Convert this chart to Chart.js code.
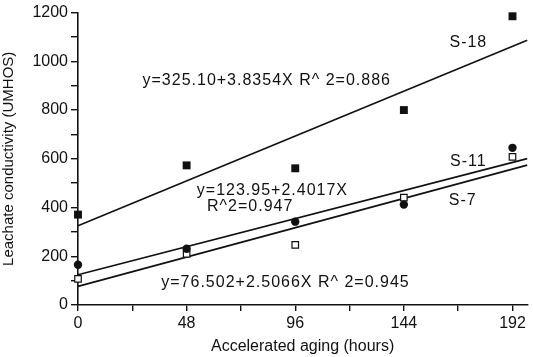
<!DOCTYPE html>
<html>
<head>
<meta charset="utf-8">
<script src="https://cdn.jsdelivr.net/npm/chart.js@4.4.1/dist/chart.umd.min.js"></script>
<style>
  html, body { margin: 0; padding: 0; background: #fff; }
  #wrap { width: 533px; height: 357px; position: relative; }
</style>
</head>
<body>
<div id="wrap"><canvas id="chart"></canvas></div>
<script>
// ---- data ----
const hours = [0, 48, 96, 144, 192];
const s18 = [371, 573, 561, 800, 1185];
const s11 = [165, 231, 342, 412, 645];
const s7  = [107, 210, 247, 441, 608];

// regression fits printed on the figure
const fitNames = ["S-18", "S-11", "S-7"];
const fitIntercept = [325.10, 123.95, 76.502];
const fitSlope = [3.8354, 2.4017, 2.5066];
const fitR2 = ["0.886", "0.947", "0.945"];

const xTicks = [0, 24, 48, 72, 96, 120, 144, 168, 192];
const xLabels = [0, 48, 96, 144, 192];
const yTicks = [0, 100, 200, 300, 400, 500, 600, 700, 800, 900, 1000, 1100, 1200];
const yLabels = [0, 200, 400, 600, 800, 1000, 1200];

const X_MAX = 198.5;
const FONT = "'Liberation Sans', Arial, sans-serif";

const pts = ys => hours.map((h, i) => ({ x: h, y: ys[i] }));
const fitLine = i => [0, X_MAX].map(x => ({ x, y: fitIntercept[i] + fitSlope[i] * x }));

// text notes, placed in data coordinates
const notes = [
  { text: "y=" + fitIntercept[0].toFixed(2) + "+" + fitSlope[0] + "X R^ 2=" + fitR2[0], x: 28.5, y: 923, align: "left" },
  { text: "y=" + fitIntercept[1].toFixed(2) + "+" + fitSlope[1] + "X", x: 52.5, y: 470, align: "left" },
  { text: "R^2=" + fitR2[1], x: 57, y: 405, align: "left" },
  { text: "y=" + fitIntercept[2] + "+" + fitSlope[2] + "X R^ 2=" + fitR2[2], x: 36.8, y: 92, align: "left" },
  { text: fitNames[0], x: 172.5, y: 1078, align: "center" },
  { text: fitNames[1], x: 172.5, y: 590, align: "center" },
  { text: fitNames[2], x: 170, y: 430, align: "center" }
];

const notesPlugin = {
  id: "notes",
  afterDatasetsDraw(chart) {
    const { ctx, scales } = chart;
    ctx.save();
    ctx.fillStyle = "#111";
    ctx.font = "16px " + FONT;
    ctx.letterSpacing = "1px";
    ctx.textBaseline = "middle";
    notes.forEach(n => {
      ctx.textAlign = n.align;
      ctx.fillText(n.text, scales.x.getPixelForValue(n.x), scales.y.getPixelForValue(n.y));
    });
    ctx.letterSpacing = "0px";
    ctx.restore();
  }
};

const lineStyle = { type: "line", borderColor: "#111", borderWidth: 1.6, pointRadius: 0, fill: false, order: 2 };

new Chart(document.getElementById("chart"), {
  type: "scatter",
  plugins: [notesPlugin],
  data: {
    datasets: [
      { label: "S-18", data: pts(s18), pointStyle: "rect", pointRadius: 5.6, backgroundColor: "#111", borderColor: "#111", borderWidth: 0, order: 1 },
      { label: "S-11", data: pts(s11), pointStyle: "circle", pointRadius: 4.2, backgroundColor: "#111", borderColor: "#111", borderWidth: 0, order: 1 },
      { label: "S-7", data: pts(s7), pointStyle: "rect", pointRadius: 4.6, backgroundColor: "#fff", borderColor: "#111", borderWidth: 1.2, order: 1 },
      { ...lineStyle, label: "fit S-18", data: fitLine(0) },
      { ...lineStyle, label: "fit S-11", data: fitLine(1) },
      { ...lineStyle, label: "fit S-7", data: fitLine(2) }
    ]
  },
  options: {
    responsive: true,
    maintainAspectRatio: false,
    animation: false,
    clip: false,
    layout: { padding: { top: 12, right: 0, left: 0, bottom: 0 } },
    plugins: { legend: { display: false }, tooltip: { enabled: false } },
    scales: {
      x: {
        type: "linear",
        min: 0,
        max: X_MAX,
        afterBuildTicks: s => { s.ticks = xTicks.map(v => ({ value: v })); },
        afterFit: s => { s.height = 52; },
        border: { display: true, color: "#111", width: 1.6 },
        grid: { drawOnChartArea: false, drawTicks: true, tickLength: 6, color: "#111", tickColor: "#111", lineWidth: 1.4 },
        ticks: {
          autoSkip: false,
          maxRotation: 0,
          padding: 3,
          color: "#111",
          font: { family: FONT, size: 16 },
          callback: v => (xLabels.includes(v) ? String(v) : "")
        },
        title: { display: true, text: "Accelerated aging (hours)", color: "#111", font: { family: FONT, size: 16 }, padding: { top: 3, bottom: 1 } }
      },
      y: {
        min: 0,
        max: 1200,
        afterBuildTicks: s => { s.ticks = yTicks.map(v => ({ value: v })); },
        afterFit: s => { s.width = 78; },
        border: { display: true, color: "#111", width: 1.6 },
        grid: { drawOnChartArea: false, drawTicks: true, tickLength: 7, color: "#111", tickColor: "#111", lineWidth: 1.4 },
        ticks: {
          autoSkip: false,
          padding: 3,
          color: "#111",
          font: { family: FONT, size: 16 },
          callback: v => (yLabels.includes(v) ? String(v) : "")
        },
        title: { display: true, text: "Leachate conductivity (UMHOS)", color: "#111", font: { family: FONT, size: 15 }, padding: { top: 0, bottom: 2 } }
      }
    }
  }
});
</script>
</body>
</html>
